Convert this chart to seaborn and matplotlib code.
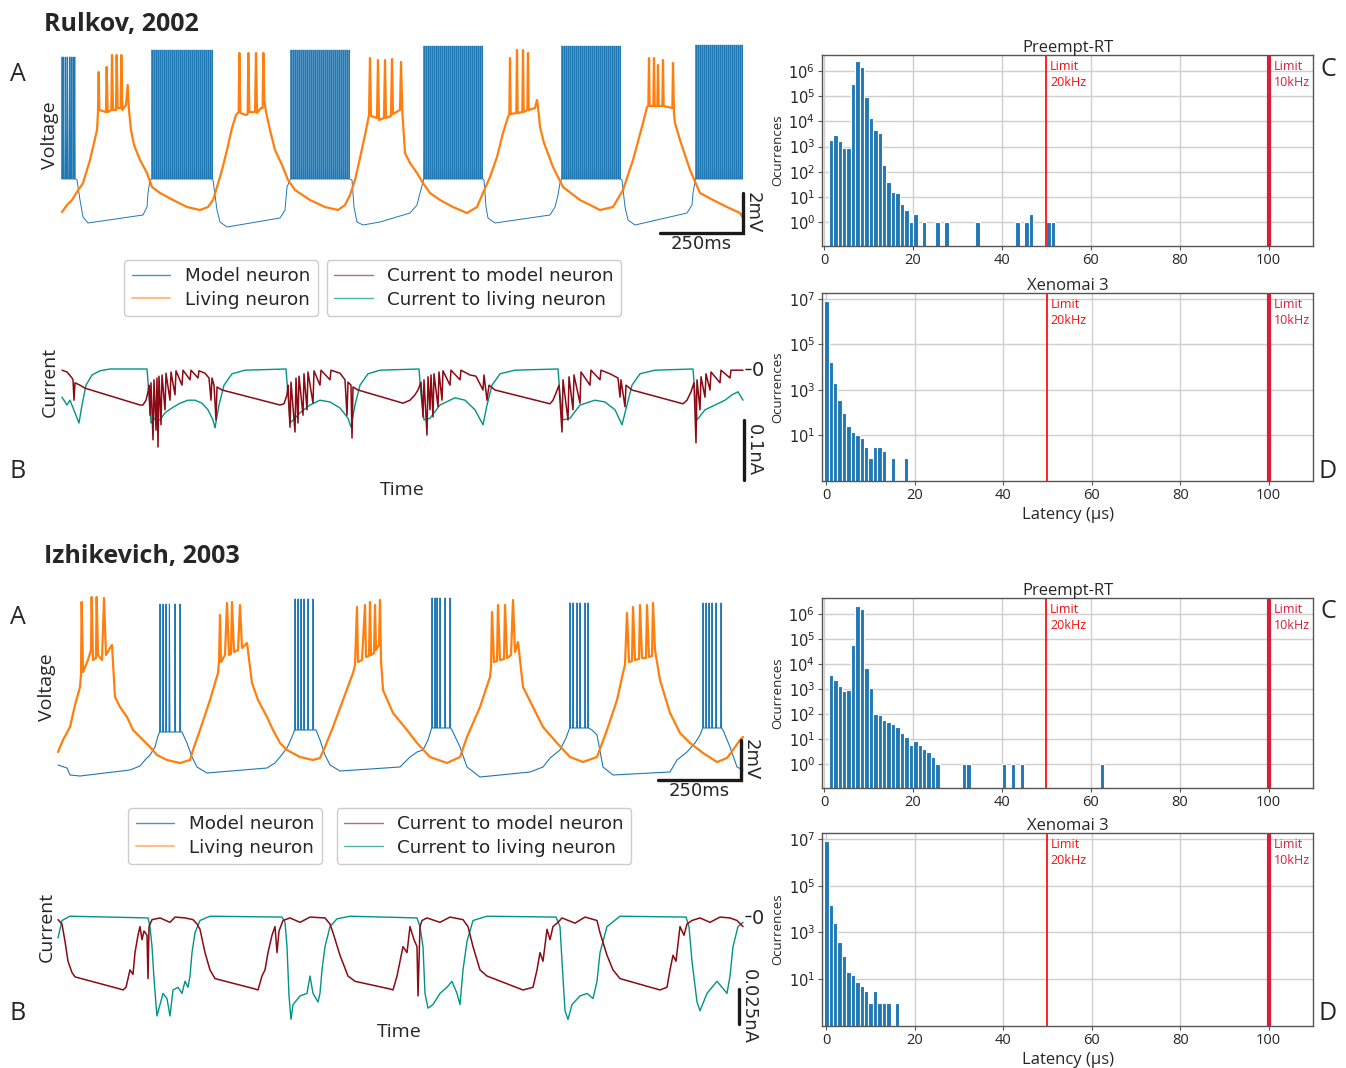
import numpy as np
import pandas as pd
import seaborn as sns
import matplotlib.pyplot as plt
from matplotlib.lines import Line2D

sns.set_theme(style="whitegrid")
plt.rcParams['font.family'] = ['DejaVu Sans']

# ------------------------------------------------------------------
# Rulkov 2002 -- traces (time in ms, voltage in mV, current in nA)
# ------------------------------------------------------------------
rk_model_wave = [
    (51, 3.0), (60, 2.0), (69, 1.15), (84, 0.85), (249, 1.25), (261, 1.65), (264, 2.35), (270, 3.0),
    (459, 3.0), (471, 1.5), (480, 0.9), (501, 0.65), (660, 1.1), (675, 1.5), (681, 2.65), (690, 3.0),
    (876, 3.0), (882, 1.65), (891, 0.9), (909, 0.75), (960, 0.9), (1050, 1.35), (1071, 1.75), (1080, 2.35), (1089, 2.9),
    (1272, 3.0), (1278, 1.65), (1284, 1.1), (1305, 0.85), (1470, 1.25), (1485, 1.65), (1494, 2.25), (1500, 2.85),
    (1686, 3.0), (1695, 1.65), (1704, 1.0), (1725, 0.75), (1881, 1.35), (1896, 1.75), (1899, 2.35), (1905, 2.9),
]
rk_model_spikes = [
    [6, 11, 17, 22, 28, 33, 39, 44],
    [276, 282, 288, 294, 300, 306, 312, 318, 324, 330, 336, 342, 348, 354, 360, 366, 372, 378, 384, 390,
     396, 402, 408, 414, 420, 426, 432, 438, 444, 450, 456],
    [693, 699, 705, 711, 717, 723, 729, 735, 741, 747, 753, 759, 765, 771, 777, 783, 789, 795, 801, 807,
     813, 819, 825, 831, 837, 843, 849, 855, 861, 867],
    [1092, 1098, 1104, 1110, 1116, 1122, 1128, 1134, 1140, 1146, 1152, 1158, 1164, 1170, 1176, 1182, 1188,
     1194, 1200, 1206, 1212, 1218, 1224, 1230, 1236, 1242, 1248, 1254, 1260, 1266],
    [1506, 1512, 1518, 1524, 1530, 1536, 1542, 1548, 1554, 1560, 1566, 1572, 1578, 1584, 1590, 1596, 1602,
     1608, 1614, 1620, 1626, 1632, 1638, 1644, 1650, 1656, 1662, 1668, 1674, 1680],
    [1908, 1914, 1920, 1926, 1932, 1938, 1944, 1950, 1956, 1962, 1968, 1974, 1980, 1986, 1992, 1998, 2004,
     2010, 2016, 2022, 2028, 2034, 2040, 2046],
]
rk_model_base = [3.05, 3.05, 3.05, 3.05, 3.05, 3.05]
rk_model_peak = [9.15, 9.5, 9.5, 9.7, 9.7, 9.75]

rk_living = [
    (6, 1.4), (21, 1.75), (36, 2.0), (51, 2.4), (69, 2.85), (90, 4.0), (111, 5.5), (114, 6.4),
    (116, 8.4), (118, 6.5), (138, 6.4), (140, 8.65), (143, 6.4), (154, 6.5), (156, 9.25), (159, 6.5),
    (168, 6.5), (170, 9.25), (173, 6.6), (182, 6.6), (184, 9.25), (187, 6.5), (198, 6.75), (203, 7.75),
    (207, 6.5), (213, 5.5), (222, 4.75), (240, 4.0), (261, 3.35), (276, 2.65), (300, 2.35), (339, 2.0),
    (381, 1.65), (420, 1.5), (444, 1.65), (459, 2.0), (471, 2.65), (486, 3.5), (501, 4.5), (516, 5.6),
    (528, 6.25), (536, 6.4), (538, 9.35), (541, 6.35), (558, 6.25), (563, 6.3), (565, 9.35), (568, 6.4),
    (585, 6.4), (588, 9.35), (591, 6.35), (603, 6.6), (608, 6.6), (610, 9.35), (613, 7.0), (617, 6.5),
    (630, 5.5), (645, 4.5), (666, 3.75), (684, 3.0), (705, 2.5), (750, 2.0), (795, 1.65), (834, 1.5),
    (855, 1.75), (870, 2.25), (885, 3.0), (900, 4.1), (915, 5.25), (927, 6.25), (930, 9.1), (933, 6.2),
    (951, 6.1), (954, 9.0), (957, 6.0), (972, 6.1), (975, 9.0), (978, 6.1), (993, 6.2), (996, 9.05),
    (999, 6.3), (1020, 6.5), (1023, 8.9), (1027, 6.4), (1035, 4.35), (1050, 3.85), (1071, 3.35), (1089, 2.85),
    (1110, 2.35), (1140, 2.0), (1179, 1.65), (1221, 1.35), (1251, 1.65), (1269, 2.35), (1290, 3.15),
    (1311, 4.15), (1329, 5.35), (1344, 6.15), (1348, 6.3), (1350, 9.1), (1352, 6.3), (1369, 6.35),
    (1371, 9.5), (1373, 6.35), (1387, 6.4), (1389, 9.5), (1391, 6.4), (1402, 6.5), (1404, 9.35), (1406, 6.5),
    (1425, 6.6), (1431, 7.0), (1437, 6.2), (1440, 5.65), (1452, 4.85), (1479, 3.65), (1509, 2.65),
    (1560, 2.0), (1620, 1.5), (1659, 1.65), (1689, 2.5), (1719, 4.0), (1749, 5.85), (1761, 6.65),
    (1765, 6.7), (1767, 9.1), (1769, 6.7), (1780, 6.7), (1782, 9.1), (1784, 6.7), (1792, 6.7), (1794, 8.75),
    (1796, 6.7), (1807, 6.7), (1809, 9.0), (1811, 6.7), (1837, 6.6), (1839, 8.85), (1842, 6.3),
    (1845, 5.85), (1860, 5.0), (1890, 3.5), (1920, 2.35), (1959, 2.0), (2001, 1.65), (2040, 1.35), (2049, 1.1),
]

rk_i_living = [
    (6, -0.047), (21, -0.06), (30, -0.052), (45, -0.073), (57, -0.09), (66, -0.06), (78, -0.027),
    (96, -0.01), (120, -0.003), (150, 0.0), (261, 0.0), (267, -0.043), (273, -0.09), (285, -0.082),
    (300, -0.085), (315, -0.073), (336, -0.065), (360, -0.057), (384, -0.052), (405, -0.052), (426, -0.057),
    (444, -0.068), (459, -0.085), (465, -0.098), (477, -0.06), (492, -0.027), (516, -0.008), (555, -0.002),
    (678, 0.0), (684, -0.043), (690, -0.09), (705, -0.082), (720, -0.073), (750, -0.06), (780, -0.052),
    (810, -0.055), (840, -0.065), (864, -0.082), (873, -0.097), (885, -0.06), (900, -0.027), (924, -0.008),
    (960, -0.002), (1077, 0.0), (1083, -0.043), (1092, -0.085), (1110, -0.082), (1140, -0.06), (1185, -0.048),
    (1215, -0.052), (1245, -0.068), (1269, -0.093), (1281, -0.06), (1296, -0.027), (1320, -0.008),
    (1365, -0.002), (1494, 0.0), (1500, -0.043), (1509, -0.085), (1530, -0.082), (1560, -0.06),
    (1605, -0.052), (1635, -0.055), (1665, -0.068), (1686, -0.093), (1701, -0.06), (1716, -0.027),
    (1740, -0.008), (1785, -0.002), (1899, 0.0), (1905, -0.043), (1911, -0.085), (1935, -0.068),
    (1965, -0.06), (1995, -0.052), (2016, -0.043), (2034, -0.038), (2049, -0.052),
]
rk_i_model = [
    (6, -0.002), (21, -0.005), (36, -0.015), (39, -0.018), (42, -0.052), (45, -0.023), (60, -0.027),
    (75, -0.032), (240, -0.06), (249, -0.06), (258, -0.052), (264, -0.038),
    (267, -0.027), (270, -0.077), (273, -0.023), (279, -0.118), (282, -0.018), (288, -0.102), (291, -0.015),
    (294, -0.13), (297, -0.012), (303, -0.093), (306, -0.01), (315, -0.068), (318, -0.007), (330, -0.052),
    (333, -0.005), (345, -0.043), (348, -0.003), (366, -0.027), (369, -0.002), (390, -0.018), (393, -0.002),
    (414, -0.015), (417, -0.003), (435, -0.007), (447, -0.015), (453, -0.052), (456, -0.015), (462, -0.027),
    (468, -0.085), (471, -0.03), (486, -0.035), (660, -0.06), (672, -0.058), (681, -0.043),
    (684, -0.027), (690, -0.097), (693, -0.022), (705, -0.105), (708, -0.015), (714, -0.09), (717, -0.012),
    (729, -0.077), (732, -0.008), (741, -0.068), (744, -0.005), (759, -0.057), (762, -0.003), (780, -0.027),
    (783, -0.002), (810, -0.018), (813, -0.002), (840, -0.007), (855, -0.018), (861, -0.077), (864, -0.022),
    (873, -0.027), (876, -0.115), (879, -0.03), (894, -0.035), (1029, -0.057), (1050, -0.052), (1065, -0.043),
    (1074, -0.035), (1083, -0.022), (1089, -0.08), (1092, -0.018), (1101, -0.11), (1104, -0.013),
    (1110, -0.068), (1113, -0.01), (1119, -0.08), (1122, -0.008), (1134, -0.063), (1137, -0.005),
    (1146, -0.052), (1149, -0.003), (1170, -0.027), (1173, -0.002), (1200, -0.018), (1203, -0.002),
    (1230, -0.01), (1248, -0.012), (1269, -0.035), (1272, -0.01), (1281, -0.052), (1287, -0.027),
    (1305, -0.035), (1470, -0.058), (1479, -0.052), (1488, -0.04),
    (1497, -0.027), (1506, -0.105), (1509, -0.018), (1524, -0.085), (1527, -0.013), (1539, -0.068),
    (1542, -0.01), (1560, -0.057), (1563, -0.005), (1590, -0.027), (1593, -0.002), (1620, -0.018),
    (1623, -0.002), (1650, -0.008), (1674, -0.015), (1680, -0.047), (1683, -0.018), (1695, -0.063),
    (1698, -0.027), (1716, -0.035), (1869, -0.058), (1881, -0.052), (1893, -0.038),
    (1902, -0.023), (1908, -0.123), (1911, -0.018), (1920, -0.068), (1923, -0.013), (1935, -0.047),
    (1938, -0.008), (1950, -0.035), (1953, -0.005), (1980, -0.023), (1983, -0.002), (2010, -0.015),
    (2013, -0.002), (2049, -0.002),
]

# ------------------------------------------------------------------
# Izhikevich 2003 -- traces
# ------------------------------------------------------------------
iz_model_wave = [
    (-6, 1.25), (21, 1.1), (30, 0.75), (60, 0.7), (210, 1.0), (240, 1.2), (255, 1.5), (270, 1.75),
    (285, 2.15), (294, 2.7), (366, 2.9), (381, 2.35), (396, 1.65), (411, 1.15), (441, 0.85), (621, 1.1),
    (645, 1.35), (660, 1.65), (681, 2.1), (696, 2.65), (768, 3.0), (780, 2.5), (795, 1.75), (810, 1.25),
    (840, 0.95), (1020, 1.15), (1050, 1.65), (1071, 1.9), (1089, 2.0), (1104, 2.5), (1176, 3.0), (1200, 2.15),
    (1221, 1.15), (1260, 0.65), (1410, 0.9), (1449, 1.15), (1470, 1.6), (1500, 2.0), (1518, 2.6),
    (1596, 3.0), (1611, 2.75), (1629, 1.15), (1659, 0.75), (1830, 0.9), (1851, 1.5), (1881, 1.9),
    (1905, 2.35), (1920, 2.75), (1989, 3.0), (2010, 2.15), (2031, 1.15), (2049, 1.0),
]
iz_model_spikes = [
    [300, 309, 318, 328, 345, 360],
    [705, 714, 723, 732, 744, 759],
    [1116, 1125, 1131, 1140, 1155, 1170],
    [1530, 1539, 1551, 1560, 1575, 1584],
    [1929, 1938, 1947, 1956, 1968, 1983],
]
iz_model_base = [2.9, 3.0, 3.1, 3.1, 3.1]
iz_model_peak = [9.3, 9.55, 9.6, 9.35, 9.35]

iz_living = [
    (-6, 1.9), (9, 2.5), (30, 3.15), (45, 4.25), (60, 5.15), (63, 5.75), (65, 9.4), (69, 5.9), (84, 6.5),
    (93, 7.0), (95, 9.65), (99, 6.5), (108, 6.6), (110, 9.65), (114, 6.75), (126, 6.5), (132, 9.6),
    (138, 6.75), (150, 7.1), (156, 7.25), (165, 4.65), (180, 4.15), (201, 3.65), (219, 3.0), (249, 2.5),
    (270, 2.15), (291, 1.75), (321, 1.5), (360, 1.35), (390, 1.5), (399, 2.0), (420, 3.0), (450, 4.5),
    (474, 5.85), (477, 6.4), (480, 8.75), (483, 6.4), (495, 6.75), (501, 9.35), (507, 6.75), (513, 6.8),
    (516, 9.4), (522, 6.9), (534, 7.0), (540, 9.25), (546, 7.1), (561, 7.35), (576, 5.35), (594, 4.5),
    (621, 3.65), (639, 3.0), (660, 2.35), (681, 2.0), (720, 1.65), (759, 1.5), (780, 1.6), (795, 2.15),
    (819, 3.15), (849, 4.5), (879, 5.85), (885, 6.25), (891, 9.15), (894, 6.4), (906, 6.5), (915, 9.25),
    (918, 6.65), (927, 6.7), (930, 9.4), (933, 6.75), (942, 6.85), (945, 9.25), (948, 7.0), (957, 7.25),
    (960, 9.5), (963, 6.5), (969, 5.0), (999, 3.85), (1041, 3.0), (1071, 2.35), (1110, 1.65), (1161, 1.35),
    (1200, 1.65), (1221, 2.65), (1260, 4.15), (1290, 5.65), (1293, 6.1), (1296, 8.9), (1302, 6.4),
    (1311, 6.45), (1314, 9.25), (1320, 6.5), (1332, 6.55), (1335, 9.25), (1341, 6.6), (1353, 6.75),
    (1359, 9.5), (1365, 6.9), (1374, 7.4), (1389, 5.15), (1419, 4.15), (1449, 3.15), (1491, 2.35),
    (1530, 1.65), (1569, 1.4), (1611, 1.65), (1641, 3.0), (1671, 4.5), (1689, 5.85), (1695, 6.25),
    (1701, 8.85), (1707, 6.4), (1716, 6.45), (1719, 9.15), (1725, 6.5), (1737, 6.55), (1740, 9.25),
    (1746, 6.6), (1758, 6.6), (1761, 9.25), (1767, 6.65), (1776, 6.7), (1779, 9.35), (1785, 7.0),
    (1800, 5.5), (1830, 3.85), (1860, 2.85), (1890, 2.35), (1929, 1.85), (1971, 1.4), (2001, 1.6),
    (2019, 2.0), (2040, 2.5), (2049, 2.65),
]

iz_i_living = [
    (-6, -0.0153), (6, -0.003), (30, 0.0), (264, -0.0012), (270, -0.0073), (276, -0.0214), (282, -0.0439),
    (288, -0.0622), (291, -0.0702), (300, -0.0622), (309, -0.0543), (321, -0.058), (330, -0.0702),
    (339, -0.0519), (354, -0.05), (366, -0.0543), (375, -0.0458), (384, -0.05), (390, -0.0421),
    (396, -0.0256), (405, -0.0116), (420, -0.003), (450, 0.0), (666, -0.0006), (675, -0.0043),
    (681, -0.0214), (687, -0.0561), (693, -0.0726), (699, -0.0622), (720, -0.0561), (741, -0.0543),
    (750, -0.0421), (759, -0.0543), (774, -0.0604), (780, -0.0543), (786, -0.0378), (795, -0.0214),
    (810, -0.0073), (831, -0.0018), (870, 0.0), (1071, -0.0012), (1080, -0.0073), (1089, -0.0214),
    (1095, -0.0543), (1104, -0.0647), (1119, -0.0622), (1140, -0.0543), (1161, -0.05), (1176, -0.0458),
    (1191, -0.0543), (1200, -0.0622), (1209, -0.0378), (1221, -0.0177), (1239, -0.003), (1281, 0.0),
    (1488, -0.0006), (1500, -0.0073), (1506, -0.0317), (1515, -0.0665), (1524, -0.0726), (1536, -0.0622),
    (1560, -0.0561), (1581, -0.0543), (1599, -0.058), (1611, -0.0458), (1620, -0.0256), (1641, -0.0073),
    (1680, 0.0), (1878, -0.0006), (1887, -0.0073), (1896, -0.0317), (1911, -0.0604), (1920, -0.0665),
    (1941, -0.0543), (1956, -0.05), (1971, -0.0458), (1986, -0.05), (2001, -0.0543), (2010, -0.0421),
    (2019, -0.0214), (2034, -0.0073), (2049, -0.0043),
]
iz_i_model = [
    (-6, -0.0024), (6, -0.0055), (15, -0.0177), (24, -0.0317), (36, -0.0397), (45, -0.0427),
    (180, -0.0512), (189, -0.0519), (198, -0.05), (210, -0.0378), (219, -0.0409), (225, -0.0256),
    (234, -0.0134), (240, -0.0073), (246, -0.0165), (252, -0.0104), (261, -0.0134), (264, -0.0439),
    (267, -0.0073), (276, -0.0024), (300, -0.0012), (330, -0.0043), (345, -0.0006), (375, -0.0012),
    (399, -0.0024), (411, -0.0055), (420, -0.0092), (435, -0.0256), (450, -0.0378), (465, -0.0439),
    (585, -0.0512), (594, -0.0519), (606, -0.0421), (615, -0.0378), (624, -0.0256), (636, -0.0134),
    (645, -0.0073), (651, -0.0256), (657, -0.0104), (669, -0.003), (690, -0.0012), (720, -0.0043),
    (750, -0.0006), (795, -0.0012), (810, -0.0055), (819, -0.0116), (840, -0.0275), (864, -0.0421),
    (885, -0.0458), (990, -0.0512), (999, -0.0519), (1011, -0.0421), (1029, -0.0214), (1041, -0.0256),
    (1050, -0.0073), (1062, -0.0165), (1071, -0.0214), (1074, -0.0561), (1080, -0.0073), (1086, -0.003),
    (1101, -0.0012), (1140, -0.0043), (1170, -0.0006), (1209, -0.0024), (1224, -0.0073), (1239, -0.0214),
    (1260, -0.0378), (1281, -0.0421), (1389, -0.0519), (1419, -0.05), (1431, -0.0378), (1440, -0.0256),
    (1449, -0.0317), (1461, -0.0092), (1470, -0.0165), (1479, -0.0073), (1494, -0.0043), (1506, -0.0012),
    (1545, -0.0049), (1575, -0.0006), (1611, -0.003), (1620, -0.0116), (1641, -0.0275), (1659, -0.0378),
    (1680, -0.0439), (1800, -0.0519), (1821, -0.05), (1830, -0.0378), (1839, -0.0275), (1848, -0.0317),
    (1860, -0.0073), (1872, -0.0134), (1881, -0.0055), (1896, -0.003), (1920, -0.0012), (1950, -0.0043),
    (1980, -0.0006), (2010, -0.0012), (2031, -0.003), (2049, -0.0073),
]

# ------------------------------------------------------------------
# Latency histograms (latency bin in us, number of occurrences)
# ------------------------------------------------------------------
rk_rt_latency = [1, 2, 3, 4, 5, 6, 7, 8, 9, 10, 11, 12, 13, 14, 15, 16, 17, 18, 19, 20,
                 22, 25, 27, 34, 43, 45, 46, 50, 51]
rk_rt_counts = [1800, 3000, 1700, 850, 900, 3.1e5, 2.5e6, 1.5e6, 9.7e4, 1.35e4, 4500, 3400, 180, 39, 15,
                14, 5, 3, 1, 2, 1, 1, 1, 1, 1, 1, 2, 1, 1]
rk_xe_latency = [0, 1, 2, 3, 4, 5, 6, 7, 8, 9, 10, 11, 12, 13, 15, 18]
rk_xe_counts = [8e6, 1.6e4, 1950, 370, 100, 27, 14, 11, 8, 3, 1, 3, 3, 2, 1, 1]

iz_rt_latency = [1, 2, 3, 4, 5, 6, 7, 8, 9, 10, 11, 12, 13, 14, 15, 16, 17, 18, 19, 20, 21, 22, 23, 24, 25,
                 31, 32, 40, 42, 44, 62]
iz_rt_counts = [3700, 2300, 1300, 800, 950, 5.8e4, 2.2e6, 1.6e6, 7000, 1100, 100, 90, 60, 50, 40, 30, 18,
                12, 6, 8, 6, 4, 3, 2, 1, 1, 1, 1, 1, 1, 1]
iz_xe_latency = [0, 1, 2, 3, 4, 5, 6, 7, 8, 9, 10, 11, 12, 13, 14, 16]
iz_xe_counts = [8e6, 1.5e4, 2500, 400, 100, 20, 15, 8, 5, 3, 1, 3, 1, 1, 1, 1]

limit_lines = [50, 100]
limit_labels = ['Limit\n20kHz', 'Limit\n10kHz']

# ------------------------------------------------------------------
W, H = 1346, 1068
BLUE, ORANGE, DARKRED, TEAL = '#1f77b4', '#ff7f0e', '#8b0a14', '#009485'
OPEN = 'Open Sans'

fig = plt.figure(figsize=(W / 100, H / 100), dpi=100)


def px_axes(x0, y0, x1, y1):
    return fig.add_axes([x0 / W, 1 - y1 / H, (x1 - x0) / W, (y1 - y0) / H])


def ftext(x, y, s, **kw):
    fig.text(x / W, 1 - y / H, s, **kw)


def with_spikes(wave, bursts, bases, peaks):
    pts = list(wave)
    for spikes, base, peak in zip(bursts, bases, peaks):
        for s in spikes:
            pts += [(s - 1.0, base), (s + 0.3, peak), (s + 1.6, base)]
    return pd.DataFrame(sorted(pts), columns=['t', 'v'])


def line(ax, pts, color, lw):
    df = pts if isinstance(pts, pd.DataFrame) else pd.DataFrame(pts, columns=['t', 'v'])
    sns.lineplot(data=df, x='t', y='v', sort=False, estimator=None, color=color, lw=lw, ax=ax)


def clean(ax, ylim):
    ax.set_xlim(-9, 2055)
    ax.set_ylim(*ylim)
    ax.axis('off')


def trace_block(top, model_df, living, i_model, i_living, v_bar, i_bar, i_ylim, i_label, i_label_y,
                model_lw):
    # voltage panel
    axv = px_axes(57, top, 745, top + 200)
    line(axv, model_df, BLUE, model_lw)
    line(axv, living, ORANGE, 1.6)
    clean(axv, (0, 10))
    bx, by = v_bar
    axv.plot([bx - 250, bx, bx], [by, by, by + 2], color='k', lw=2.4, clip_on=False,
             solid_joinstyle='miter')
    axv.text(bx + 3, by + 1, '2mV', rotation=270, ha='left', va='center', fontsize=13, clip_on=False)
    axv.text(bx - 125, by - 0.55, '250ms', ha='center', va='center', fontsize=13)
    # current panel
    axi = px_axes(57, top + 315, 745, top + 445)
    line(axi, i_living, TEAL, 1.0)
    line(axi, i_model, DARKRED, 1.1)
    axi.set_xlim(-9, 2055)
    axi.set_ylim(*i_ylim)
    axi.grid(False)
    for sp in axi.spines.values():
        sp.set_visible(False)
    axi.set_xticks([])
    axi.set_xlabel('')
    axi.set_ylabel('')
    axi.yaxis.tick_right()
    axi.set_yticks([0])
    axi.set_yticklabels(['0'])
    axi.tick_params(axis='y', right=True, length=4, width=1, color='k', labelsize=14, pad=1)
    ix, iy0, iy1 = i_bar
    axi.plot([ix, ix], [iy0, iy1], color='k', lw=2.4, clip_on=False)
    axi.text(ix + 4, i_label_y, i_label, rotation=270, ha='left', va='center', fontsize=13,
             clip_on=False)
    return axv, axi


def legends(y, c1, c2):
    h1 = [Line2D([], [], color=BLUE, lw=1, alpha=0.8), Line2D([], [], color=ORANGE, lw=1.5, alpha=0.5)]
    h2 = [Line2D([], [], color=DARKRED, lw=1, alpha=0.6), Line2D([], [], color=TEAL, lw=1, alpha=0.7)]
    for hs, labels, cx in [(h1, ['Model neuron', 'Living neuron'], c1),
                           (h2, ['Current to model neuron', 'Current to living neuron'], c2)]:
        lg = fig.legend(hs, labels, loc='center', bbox_to_anchor=(cx / W, 1 - y / H), fontsize=13.2,
                        frameon=True, fancybox=True, framealpha=1, handlelength=2.1,
                        labelspacing=0.3, borderpad=0.4)
        lg.get_frame().set_edgecolor('#cccccc')


def hist_panel(y0, y1, lat, cnt, binrange, ylim, yticks, title, xlim, xlabel=None):
    ax = px_axes(822, y0, 1313, y1)
    sns.histplot(x=lat, weights=cnt, binwidth=1, binrange=binrange, ax=ax, color=BLUE,
                 edgecolor='white', linewidth=0.8, alpha=1.0)
    ax.set_yscale('log')
    ax.set_ylim(*ylim)
    ax.set_xlim(*xlim)
    ax.set_xticks([0, 20, 40, 60, 80, 100])
    ax.set_yticks(yticks)
    ax.grid(True, which='major', color='#cfcfcf', lw=1)
    ax.set_axisbelow(True)
    for sp in ax.spines.values():
        sp.set_visible(True)
        sp.set_color('#555555')
        sp.set_linewidth(1)
    ax.tick_params(which='major', bottom=True, left=True, length=3, width=0.8, color='#555555',
                   labelsize=10.5, pad=2)
    ax.tick_params(which='minor', left=True, length=2, width=0.6, color='#555555')
    for lab in ax.get_xticklabels():
        lab.set_fontfamily(OPEN)
    ax.axvline(limit_lines[0], color='#ff1010', lw=1.3)
    ax.axvline(limit_lines[1], color='#d81e3a', lw=3)
    for xv, s, c in zip([limit_lines[0] + 0.8, limit_lines[1] + 1.1], limit_labels, ['#ee1111', '#d81e3a']):
        ax.text(xv, 0.975, s, transform=ax.get_xaxis_transform(), ha='left', va='top', fontsize=9,
                color=c, family=OPEN, linespacing=1.35)
    ax.set_title(title, fontsize=12, family=OPEN, pad=2)
    ax.set_ylabel('Ocurrences', fontsize=9.5, family=OPEN, labelpad=3)
    ax.set_xlabel(xlabel if xlabel else '', fontsize=12, family=OPEN, labelpad=3)
    return ax


# ---------------- Rulkov block ----------------
trace_block(40, with_spikes(rk_model_wave, rk_model_spikes, rk_model_base, rk_model_peak),
            rk_living, rk_i_model, rk_i_living, v_bar=(2049, 0.35), i_bar=(2052, -0.085, -0.185),
            i_ylim=(-0.1933, 0.0233), i_label='0.1nA', i_label_y=-0.135, model_lw=0.7)
legends(288, 221, 474)

# ---------------- Izhikevich block ----------------
trace_block(590, with_spikes(iz_model_wave, iz_model_spikes, iz_model_base, iz_model_peak),
            iz_living, iz_i_model, iz_i_living, v_bar=(2043, 0.5), i_bar=(2037, -0.0512, -0.0762),
            i_ylim=(-0.0836, 0.0079), i_label='0.025nA', i_label_y=-0.0634, model_lw=0.8)
legends(836, 225, 484)

# ---------------- histograms ----------------
hist_panel(55, 246, rk_rt_latency, rk_rt_counts, (0, 110), (0.11, 4.4e6),
           [1, 10, 1e2, 1e3, 1e4, 1e5, 1e6], 'Preempt-RT', (-0.5, 110))
hist_panel(293, 481, rk_xe_latency, rk_xe_counts, (-0.4, 109.6), (0.1, 1.8e7),
           [10, 1e3, 1e5, 1e7], 'Xenomai 3', (-0.9, 110), 'Latency (µs)')
hist_panel(598, 788, iz_rt_latency, iz_rt_counts, (0, 110), (0.11, 4.4e6),
           [1, 10, 1e2, 1e3, 1e4, 1e5, 1e6], 'Preempt-RT', (-0.5, 110))
hist_panel(833, 1026, iz_xe_latency, iz_xe_counts, (-0.4, 109.6), (0.1, 1.8e7),
           [10, 1e3, 1e5, 1e7], 'Xenomai 3', (-0.9, 110), 'Latency (µs)')

# ---------------- labels ----------------
ftext(44, 25, 'Rulkov, 2002', fontsize=18, fontweight='bold', family=OPEN, ha='left', va='center')
ftext(44, 556, 'Izhikevich, 2003', fontsize=18, fontweight='bold', family=OPEN, ha='left', va='center')
for (x, y, s) in [(18, 74, 'A'), (18, 471, 'B'), (1328, 70, 'C'), (1328, 472, 'D'),
                  (18, 617, 'A'), (18, 1014, 'B'), (1328, 612, 'C'), (1328, 1014, 'D')]:
    ftext(x, y, s, fontsize=18, family=OPEN, ha='center', va='center')
for (x, y, s, r) in [(50, 135, 'Voltage', 90), (50, 382, 'Current', 90), (402, 490, 'Time', 0),
                     (47, 687, 'Voltage', 90), (47, 927, 'Current', 90), (399, 1032, 'Time', 0)]:
    ftext(x, y, s, fontsize=14, family=OPEN, ha='center', va='center', rotation=r)

fig.savefig('out.png', dpi=100)
